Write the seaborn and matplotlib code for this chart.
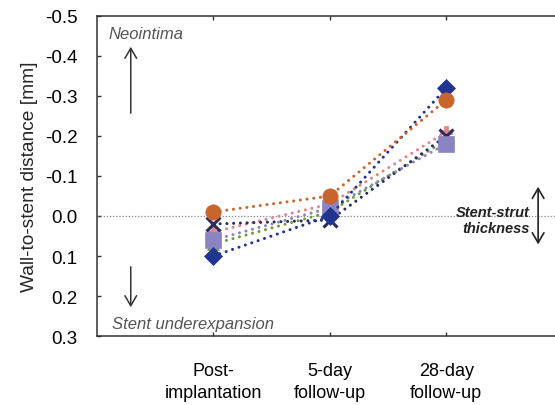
import matplotlib
matplotlib.use("Agg")
import matplotlib.pyplot as plt
import seaborn as sns
import pandas as pd

sns.set_theme(style="white")
plt.rcParams["font.family"] = ["Liberation Sans", "DejaVu Sans"]

# Time points and wall-to-stent distance per stent (mm, negative = neointima)
timepoints = ["Post-\nimplantation", "5-day\nfollow-up", "28-day\nfollow-up"]
stent_green = [0.07, -0.01, -0.19]
stent_pink = [0.04, -0.03, -0.21]
stent_cross = [0.02, 0.01, -0.20]
stent_square = [0.06, -0.02, -0.18]
stent_diamond = [0.10, 0.00, -0.32]
stent_circle = [-0.01, -0.05, -0.29]

yticks = [-0.5, -0.4, -0.3, -0.2, -0.1, 0.0, 0.1, 0.2, 0.3]

series = [
    ("green", stent_green, "#6f9c3d", "^", 9),
    ("pink", stent_pink, "#e0848a", "P", 9),
    ("cross", stent_cross, "#2b2d5c", "x", 10),
    ("square", stent_square, "#8a84c2", "s", 11),
    ("diamond", stent_diamond, "#1f3590", "D", 9),
    ("circle", stent_circle, "#c8652c", "o", 11),
]

fig = plt.figure(figsize=(5.55, 4.06), dpi=100)
ax = fig.add_axes([97 / 555, 1 - 337 / 406, 1 - 97 / 555, (337 - 17) / 406])

ax.axhline(0, color="#888888", lw=0.9, ls=(0, (1, 1.5)), zorder=1)

x = list(range(len(timepoints)))
for name, vals, col, mk, ms in series:
    df = pd.DataFrame({"t": x, "d": vals})
    sns.lineplot(data=df, x="t", y="d", ax=ax, color=col, lw=2.2,
                 linestyle=(0, (0.01, 2.2)), dash_capstyle="round",
                 marker=mk, markersize=ms, markeredgecolor=col,
                 markeredgewidth=2.2 if mk == "x" else 0.5,
                 zorder=3, legend=False)

ax.set_xlim(-1, 2.935)
ax.set_ylim(0.3, -0.5)
ax.set_xticks(x)
ax.set_xticklabels(timepoints, fontsize=13, linespacing=1.35)
ax.set_yticks(yticks)
ax.set_yticklabels([f"{v:.1f}" for v in yticks], fontsize=13.5)
ax.set_xlabel("")
ax.set_ylabel("Wall-to-stent distance [mm]", fontsize=13.8, labelpad=5)

ax.tick_params(axis="x", direction="in", length=3, width=1, top=True,
               bottom=True, pad=19, colors="#333333", labelcolor="black")
ax.tick_params(axis="y", direction="in", length=3, width=1, left=True,
               pad=14, colors="#333333", labelcolor="black")
for side in ("left", "top", "bottom"):
    ax.spines[side].set_color("#333333")
    ax.spines[side].set_linewidth(1.1)
ax.spines["right"].set_visible(False)

# Direction annotations
ax.text(-0.9, -0.455, "Neointima", style="italic", fontsize=12,
        color="#555555", ha="left", va="center")
ax.annotate("", xy=(-0.71, -0.43), xytext=(-0.71, -0.25),
            arrowprops=dict(arrowstyle="->,head_length=0.6,head_width=0.35",
                        color="#333333", lw=1.1))
ax.text(-0.87, 0.27, "Stent underexpansion", style="italic", fontsize=12,
        color="#555555", ha="left", va="center")
ax.annotate("", xy=(-0.71, 0.235), xytext=(-0.71, 0.12),
            arrowprops=dict(arrowstyle="->,head_length=0.6,head_width=0.35",
                        color="#333333", lw=1.1))

ax.text(2.715, 0.01, "Stent-strut\nthickness", style="italic",
        fontweight="bold", fontsize=10.5, color="#222222", ha="right",
        va="center", linespacing=1.25)
ax.annotate("", xy=(2.79, -0.08), xytext=(2.79, 0.078),
            arrowprops=dict(arrowstyle="<->,head_length=0.6,head_width=0.35",
                        color="#222222", lw=1.2))

fig.savefig("out.png", dpi=100)
